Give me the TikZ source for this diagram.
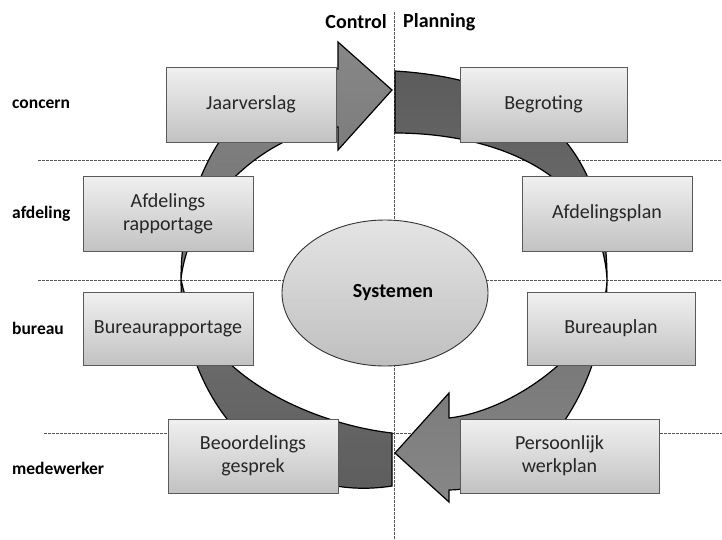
\documentclass[tikz,border=0pt]{standalone}
\usepackage{fontspec}
\setmainfont{Carlito}
\usetikzlibrary{shapes.geometric,shadows}
\definecolor{boxtop}{HTML}{F0F0F0}
\definecolor{boxbot}{HTML}{C2C2C2}
\definecolor{boxline}{HTML}{5A5A5A}
\definecolor{boxtext}{HTML}{262626}
\definecolor{guidecol}{HTML}{555555}
\definecolor{arrdark}{HTML}{5C5C5C}
\definecolor{arrlight}{HTML}{878787}
\begin{document}
\begin{tikzpicture}[x=1pt,y=-1pt,
  box/.style={draw=boxline, line width=0.9pt, top color=boxtop, bottom color=boxbot,
    align=center, text=boxtext, font=\fontsize{20}{23}\selectfont, inner sep=0pt,
    drop shadow={shadow xshift=1.2pt, shadow yshift=-1.2pt, opacity=0.18, fill=black}},
  rowlab/.style={anchor=west, font=\fontsize{17.5}{20}\selectfont\bfseries, inner sep=0pt},
  headlab/.style={font=\fontsize{20}{24}\selectfont\bfseries, inner sep=0pt},
  guide/.style={draw=guidecol, line width=0.8pt, dash pattern=on 2.5pt off 1.5pt},
  ribbon/.style={draw=black, line width=1.2pt, line join=miter}]
\useasboundingbox (0,0) rectangle (722,539);
\fill[white] (0,0) rectangle (722,539);

% guide lines
\coordinate (v1) at (394,12);
\coordinate (v2) at (394,539);
\coordinate (h1a) at (38,160);
\coordinate (h1b) at (722,160);
\coordinate (h2a) at (38,280);
\coordinate (h2b) at (722,280);
\coordinate (h3a) at (44,433);
\coordinate (h3b) at (722,433);
\draw[guide] (v1) -- (v2);
\draw[guide] (h1a) -- (h1b);
\draw[guide] (h2a) -- (h2b);
\draw[guide] (h3a) -- (h3b);

% left arrow (Control side), from bottom up to top
\path[ribbon, top color=arrlight, bottom color=arrdark]
  (392,486) .. controls (270,505) and (181,400) .. (181,279)
  .. controls (181,165) and (250,69) .. (338,69)
  -- (338,42) -- (392,90) -- (338,150) -- (338,127)
  .. controls (270,130) and (190,200) .. (181,279)
  .. controls (200,380) and (320,425) .. (392,433) -- cycle;

% right arrow (Planning side), from top down to bottom
\path[ribbon, top color=arrdark, bottom color=arrlight]
  (395,71) .. controls (510,78) and (607,125) .. (607,279)
  .. controls (607,375) and (548,488) .. (449,490)
  -- (449,502) -- (395,453) -- (449,393) -- (449,418)
  .. controls (520,410) and (607,340) .. (607,279)
  .. controls (600,170) and (490,133) .. (395,133) -- cycle;

% header labels
\node[headlab, anchor=east] (control) at (387,22) {Control};
\node[headlab, anchor=west] (planning) at (403,22) {Planning};

% row labels
\node[rowlab] (concern) at (12,104) {concern};
\node[rowlab] (afdeling) at (12,214) {afdeling};
\node[rowlab] (bureau) at (12,328) {bureau};
\node[rowlab] (medewerker) at (12,468) {medewerker};

% boxes
\node[box, minimum width=170, minimum height=75] (jaar) at (251,104.5) {Jaarverslag};
\node[box, minimum width=167, minimum height=75] (begr) at (543.5,104.5) {Begroting};
\node[box, minimum width=170, minimum height=75] (afdr) at (168,213.5) {Afdelings\\rapportage};
\node[box, minimum width=170, minimum height=75] (afdp) at (607,213.5) {Afdelingsplan};
\node[box, minimum width=170, minimum height=73] (burr) at (168,328.5) {Bureaurapportage};
\node[box, minimum width=168, minimum height=73] (burp) at (611,328.5) {Bureauplan};
\node[box, minimum width=170, minimum height=74] (beoo) at (253,456) {Beoordelings\\gesprek};
\node[box, minimum width=199, minimum height=74] (pers) at (559.5,456) {Persoonlijk\\werkplan};

% centre ellipse
\node[ellipse, draw=black!80, line width=0.9pt, top color=boxtop!95!black, bottom color=boxbot!105!white,
  minimum width=206, minimum height=146, inner sep=0pt] (sys) at (385,293) {};
\node[headlab] (systxt) at (393,293) {Systemen};
\end{tikzpicture}
\end{document}
